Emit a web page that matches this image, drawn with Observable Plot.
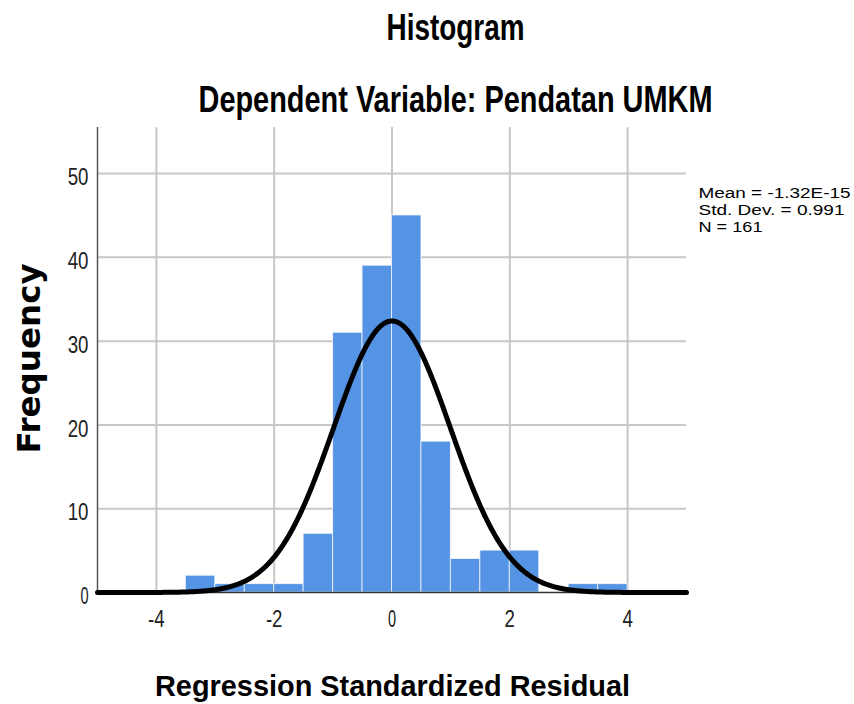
<!DOCTYPE html>
<html><head><meta charset="utf-8">
<script src="https://cdn.jsdelivr.net/npm/d3@7"></script>
<script src="https://cdn.jsdelivr.net/npm/@observablehq/plot@0.6"></script>
<style>body{margin:0;background:#fff}</style>
</head><body><div id="chart"></div>
<script>
// ---- data ----
const binStarts = [-3.5, -3.0, -2.5, -2.0, -1.5, -1.0, -0.5, 0.0, 0.5, 1.0, 1.5, 2.0, 2.5, 3.0, 3.5];
const frequencies = [2, 1, 1, 1, 7, 31, 39, 45, 18, 4, 5, 5, 0, 1, 1];
const binWidth = 0.5;
const xTicks = [-4, -2, 0, 2, 4];
const yTicks = [0, 10, 20, 30, 40, 50];
const meanValue = -1.32e-15;
const sdValue = 0.991;
const nValue = 161;
const statLines = ["Mean = -1.32E-15", "Std. Dev. = 0.991", "N = 161"];
const titleText = "Histogram";
const subtitleText = "Dependent Variable: Pendatan UMKM";
const xLabel = "Regression Standardized Residual";
const yLabel = "Frequency";

// ---- tables built from the arrays ----
const bars = binStarts.map((x0, i) => ({x1: x0, x2: x0 + binWidth, count: frequencies[i]}));
// fitted normal curve defined by the stated mean, std. dev. and N (scaled to bin width)
const curveX = d3.range(-5, 5.0001, 0.02);
const curve = curveX.map(x => ({
  x,
  y: nValue * binWidth * Math.exp(-0.5 * ((x - meanValue) / sdValue) ** 2) / (sdValue * Math.sqrt(2 * Math.PI))
}));

const F = "Liberation Sans, Arial, sans-serif";
const chart = Plot.plot({
  width: 854, height: 704,
  marginLeft: 97, marginRight: 168, marginTop: 127, marginBottom: 112,
  x: {domain: [-5, 5], axis: null},
  y: {domain: [0, 55.5], axis: null},
  style: {background: "#fff", overflow: "visible"},
  marks: [
    Plot.ruleX(xTicks, {stroke: "#c8c8c8", strokeWidth: 2}),
    Plot.ruleY(yTicks.filter(d => d > 0), {stroke: "#c8c8c8", strokeWidth: 2}),
    Plot.rectY(bars, {filter: d => d.count > 0, x1: "x1", x2: "x2", y: "count", fill: "#5594e4", stroke: "#ffffff", strokeOpacity: 0.7, strokeWidth: 1}),
    Plot.ruleX([-5], {stroke: "#555", strokeWidth: 1.5}),
    Plot.ruleY([0], {stroke: "#333", strokeWidth: 1.5}),
    Plot.line(curve, {x: "x", y: "y", stroke: "#000", strokeWidth: 5, curve: "linear"}),
    // tick labels
    Plot.text(yTicks, {frameAnchor: "left", y: d => d, text: d => String(d), textAnchor: "end", dx: -9, dy: 4, fontSize: 24, fontFamily: F, fill: "#222", lineAnchor: "middle"}),
    Plot.text(xTicks, {frameAnchor: "bottom", x: d => d, text: d => String(d), dy: 27, fontSize: 24, fontFamily: F, fill: "#222", lineAnchor: "middle"}),
    // titles
    Plot.text([titleText], {frameAnchor: "top", dx: 63.5, dy: 39.3 - 127, lineAnchor: "bottom", fontSize: 37, fontWeight: "bold", fontFamily: F, fill: "#000"}),
    Plot.text([subtitleText], {frameAnchor: "top", dx: 63.5, dy: 111 - 127, lineAnchor: "bottom", fontSize: 36, fontWeight: "bold", fontFamily: F, fill: "#000"}),
    Plot.text([xLabel], {frameAnchor: "bottom", dx: 0.5, dy: 695 - 592, lineAnchor: "bottom", fontSize: 30, fontWeight: "bold", fontFamily: F, fill: "#000"}),
    Plot.text([yLabel], {frameAnchor: "left", rotate: -90, textAnchor: "middle", dx: 39 - 97, dy: -1.5, lineAnchor: "bottom", fontSize: 32.5, fontWeight: "bold", fontFamily: "DejaVu Sans, sans-serif", fill: "#000"}),
    ...statLines.map((s, i) => Plot.text([s], {frameAnchor: "top-right", dx: 12, dy: 197 - 127 + 17 * i, textAnchor: "start", lineAnchor: "bottom", fontSize: 15.5, fontFamily: F, fill: "#000"}))
  ]
});
document.getElementById("chart").append(chart);

const texts = Array.from(chart.querySelectorAll("text"));
function fit(str, {factor, target}) {
  texts.filter(t => t.textContent === str).forEach(t => {
    const w = t.getComputedTextLength();
    const L = target != null ? target : w * factor;
    t.setAttribute("textLength", L.toFixed(1));
    t.setAttribute("lengthAdjust", "spacingAndGlyphs");
  });
}
fit(titleText, {target: 138});
fit(subtitleText, {target: 514});
yTicks.forEach(d => fit(String(d), {factor: 0.78}));
xTicks.forEach(d => fit(String(d), {factor: 0.78}));
fit(xLabel, {target: 475});
fit(statLines[0], {target: 152});
fit(statLines[1], {target: 146});
fit(statLines[2], {target: 64});
</script>
</body></html>
